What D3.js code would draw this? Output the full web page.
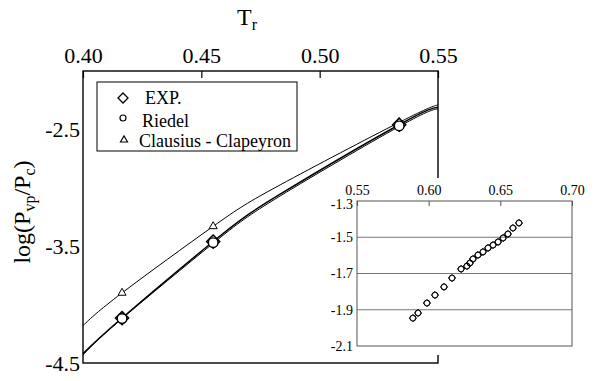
<!DOCTYPE html>
<html>
<head>
<meta charset="utf-8">
<script src="https://cdn.jsdelivr.net/npm/d3@7"></script>
<style>
  body { margin: 0; background: #fff; }
  svg { display: block; font-family: "Liberation Serif", "Times New Roman", serif; }
</style>
</head>
<body>
<div id="root"></div>
<script>
// main chart values
const mainTicksX = [0.40, 0.45, 0.50, 0.55]
const mainTicksY = [-2.5, -3.5, -4.5]

const pointTr = [0.4165, 0.455, 0.5336]
const expValues = [-4.115, -3.46, -2.46]
const riedelValues = [-4.12, -3.47, -2.47]
const clausiusValues = [-3.90, -3.33, -2.44]

const curveTr = [0.40, 0.4165, 0.455, 0.4833, 0.5336, 0.55]
const expCurve = [-4.42, -4.115, -3.46, -3.055, -2.46, -2.31]
const riedelCurve = [-4.43, -4.12, -3.475, -3.07, -2.475, -2.325]
const clausiusCurve = [-4.18, -3.90, -3.33, -2.975, -2.44, -2.29]

const legendLabels = ['EXP.', 'Riedel', 'Clausius - Clapeyron']

// inset values
const insetTicksX = [0.55, 0.60, 0.65, 0.70]
const insetTicksY = [-1.3, -1.5, -1.7, -1.9, -2.1]
const insetTr = [0.589, 0.5926, 0.5988, 0.6044, 0.6107, 0.6163, 0.6226, 0.6267, 0.6288, 0.6309,
  0.6344, 0.6379, 0.6414, 0.6449, 0.6484, 0.6519, 0.6553, 0.6588, 0.663]
const insetValues = [-1.946, -1.918, -1.863, -1.819, -1.774, -1.725, -1.675, -1.659, -1.642, -1.62,
  -1.598, -1.581, -1.559, -1.543, -1.526, -1.504, -1.482, -1.449, -1.421]

const WIDTH = 594
const HEIGHT = 381
const SERIF = '"Liberation Serif", "Times New Roman", serif'

// plain hyphen for negatives, like the original figure
const fmt = (spec) => (d) => d3.format(spec)(d).replace('\u2212', '-')

const svg = d3.select('#root')
  .append('svg')
  .attr('width', WIDTH)
  .attr('height', HEIGHT)

const xScale = d3.scaleLinear().domain([0.40, 0.55]).range([83, 438])
const yScale = d3.scaleLinear().domain([-4.5, -2.0]).range([363, 71])

// frame of the main plot
svg.append('rect')
  .attr('x', xScale(0.40))
  .attr('y', yScale(-2.0))
  .attr('width', xScale(0.55) - xScale(0.40))
  .attr('height', yScale(-4.5) - yScale(-2.0))
  .attr('fill', 'none')
  .attr('stroke', '#000')
  .attr('stroke-width', 1.4)

const xAxis = svg.append('g')
  .attr('transform', `translate(0,${yScale(-2.0)})`)
  .call(d3.axisTop(xScale).tickValues(mainTicksX).tickFormat(fmt('.2f')).tickSize(-7).tickPadding(8))
  .attr('font-family', SERIF)
  .attr('font-size', 22)
xAxis.select('.domain').remove()
xAxis.selectAll('line').attr('stroke', '#000').attr('stroke-width', 1.2)
xAxis.selectAll('text').attr('fill', '#000')

const yAxis = svg.append('g')
  .attr('transform', `translate(${xScale(0.40)},0)`)
  .call(d3.axisLeft(yScale).tickValues(mainTicksY).tickFormat(fmt('.1f')).tickSize(0).tickPadding(3))
  .attr('font-family', SERIF)
  .attr('font-size', 22)
yAxis.select('.domain').remove()
yAxis.selectAll('text').attr('fill', '#000')

// axis titles
const tTitle = svg.append('text').attr('x', 237).attr('y', 25).attr('font-size', 24)
tTitle.append('tspan').text('T')
tTitle.append('tspan').attr('font-size', 16).attr('dy', 5).text('r')

const yTitle = svg.append('text')
  .attr('transform', 'translate(30,212) rotate(-90)')
  .attr('text-anchor', 'middle')
  .attr('font-size', 24)
yTitle.append('tspan').text('log(P')
yTitle.append('tspan').attr('font-size', 16).attr('dy', 5).text('vp')
yTitle.append('tspan').attr('dy', -5).text('/P')
yTitle.append('tspan').attr('font-size', 16).attr('dy', 5).text('c')
yTitle.append('tspan').attr('dy', -5).text(')')

// curves
const line = d3.line()
  .x((d, i) => xScale(curveTr[i]))
  .y(d => yScale(d))
  .curve(d3.curveNatural)

svg.append('path').attr('d', line(clausiusCurve)).attr('fill', 'none').attr('stroke', '#000').attr('stroke-width', 1)
svg.append('path').attr('d', line(riedelCurve)).attr('fill', 'none').attr('stroke', '#000').attr('stroke-width', 1)
svg.append('path').attr('d', line(expCurve)).attr('fill', 'none').attr('stroke', '#000').attr('stroke-width', 1.5)

// markers
const triangle = d3.symbol().type(d3.symbolTriangle).size(28)
const diamond = (r) => `M0,${-r}L${r},0L0,${r}L${-r},0Z`

svg.selectAll('.tri')
  .data(clausiusValues)
  .enter()
  .append('path')
  .attr('d', triangle)
  .attr('transform', (d, i) => `translate(${xScale(pointTr[i])},${yScale(d)})`)
  .attr('fill', '#fff')
  .attr('stroke', '#000')
  .attr('stroke-width', 1)

svg.selectAll('.dia')
  .data(expValues)
  .enter()
  .append('path')
  .attr('d', diamond(6.5))
  .attr('transform', (d, i) => `translate(${xScale(pointTr[i])},${yScale(d)})`)
  .attr('fill', '#fff')
  .attr('stroke', '#000')
  .attr('stroke-width', 1.6)

svg.selectAll('.cir')
  .data(riedelValues)
  .enter()
  .append('circle')
  .attr('cx', (d, i) => xScale(pointTr[i]))
  .attr('cy', d => yScale(d))
  .attr('r', 4.8)
  .attr('fill', '#fff')
  .attr('stroke', '#000')
  .attr('stroke-width', 1.4)

// legend
const legend = svg.append('g')
legend.append('rect')
  .attr('x', 97).attr('y', 82).attr('width', 200).attr('height', 69)
  .attr('fill', '#fff').attr('stroke', '#000').attr('stroke-width', 1)
legend.append('path').attr('d', diamond(5)).attr('transform', 'translate(123,98)')
  .attr('fill', 'none').attr('stroke', '#000').attr('stroke-width', 1.3)
legend.append('circle').attr('cx', 123).attr('cy', 118).attr('r', 3)
  .attr('fill', 'none').attr('stroke', '#000').attr('stroke-width', 1.2)
legend.append('path').attr('d', d3.symbol().type(d3.symbolTriangle).size(22)).attr('transform', 'translate(124,140)')
  .attr('fill', 'none').attr('stroke', '#000').attr('stroke-width', 1.1)
legend.selectAll('text')
  .data(legendLabels)
  .enter()
  .append('text')
  .attr('x', (d, i) => [145, 142, 139][i])
  .attr('y', (d, i) => [104, 127, 147][i])
  .attr('font-size', 18)
  .text(d => d)

// inset
const ix = d3.scaleLinear().domain([0.55, 0.70]).range([357, 572])
const iy = d3.scaleLinear().domain([-2.1, -1.3]).range([346, 201])

svg.append('rect')
  .attr('x', 318).attr('y', 178).attr('width', WIDTH - 318).attr('height', 177)
  .attr('fill', '#fff')

svg.append('g')
  .selectAll('line')
  .data(insetTicksY.slice(1, -1))
  .enter()
  .append('line')
  .attr('x1', ix(0.55)).attr('x2', ix(0.70))
  .attr('y1', d => iy(d)).attr('y2', d => iy(d))
  .attr('stroke', '#777').attr('stroke-width', 1)

svg.append('rect')
  .attr('x', ix(0.55)).attr('y', iy(-1.3))
  .attr('width', ix(0.70) - ix(0.55)).attr('height', iy(-2.1) - iy(-1.3))
  .attr('fill', 'none').attr('stroke', '#555').attr('stroke-width', 1)

const ixAxis = svg.append('g')
  .attr('transform', `translate(0,${iy(-1.3)})`)
  .call(d3.axisTop(ix).tickValues(insetTicksX).tickFormat(fmt('.2f')).tickSize(-5).tickPadding(6))
  .attr('font-family', SERIF)
  .attr('font-size', 14)
ixAxis.select('.domain').remove()
ixAxis.selectAll('line').attr('stroke', '#555')
ixAxis.selectAll('text').attr('fill', '#000')

const iyAxis = svg.append('g')
  .attr('transform', `translate(${ix(0.55)},0)`)
  .call(d3.axisLeft(iy).tickValues(insetTicksY).tickFormat(fmt('.1f')).tickSize(0).tickPadding(4))
  .attr('font-family', SERIF)
  .attr('font-size', 14)
iyAxis.select('.domain').remove()
iyAxis.selectAll('text').attr('fill', '#000')
// the first tick labels sit on each other in the original; nudge the y one down a touch
iyAxis.selectAll('text').filter(d => d === -1.3).attr('dy', '0.55em')

const insetPoints = svg.append('g')
insetPoints.selectAll('.idia')
  .data(insetValues)
  .enter()
  .append('path')
  .attr('d', diamond(3.6))
  .attr('transform', (d, i) => `translate(${ix(insetTr[i])},${iy(d)})`)
  .attr('fill', 'none').attr('stroke', '#000').attr('stroke-width', 1)
insetPoints.selectAll('.icir')
  .data(insetValues)
  .enter()
  .append('circle')
  .attr('cx', (d, i) => ix(insetTr[i]))
  .attr('cy', d => iy(d))
  .attr('r', 3)
  .attr('fill', 'none').attr('stroke', '#000').attr('stroke-width', 1)
</script>
</body>
</html>
